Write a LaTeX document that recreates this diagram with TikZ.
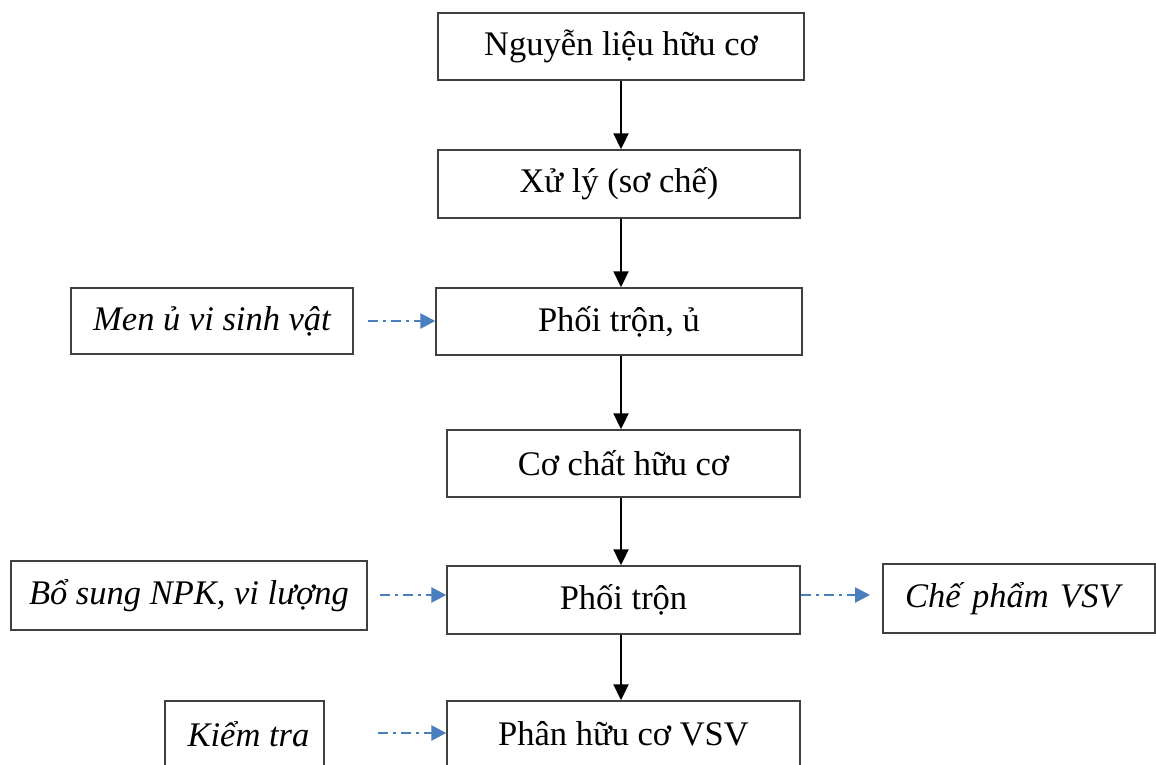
\documentclass[tikz,border=0pt]{standalone}
\usepackage{fontspec}
\setmainfont{Liberation Serif}
\usetikzlibrary{arrows.meta}
\definecolor{flowblue}{HTML}{4A7EBF}
\definecolor{boxline}{HTML}{404040}
\tikzset{
  x=1pt, y=-1pt,
  box/.style={draw=boxline, line width=1.4pt, rectangle, inner sep=0pt,
    font=\fontsize{34.5}{40}\selectfont},
  sidebox/.style={box, font=\fontsize{34.5}{40}\selectfont\itshape},
  flow/.style={line width=2pt, -{Triangle[length=16pt,width=15pt]}},
  aux/.style={draw=flowblue, line width=2.6pt,
    dash pattern=on 10pt off 5pt on 3pt off 5pt,
    -{Triangle[length=15pt,width=15pt,fill=flowblue]}},
}
\begin{document}
\begin{tikzpicture}
\useasboundingbox (0,0) rectangle (1156,765);
% main process chain
\node[box, minimum width=366pt, minimum height=67pt] (b1) at (621,46.5) {Nguyễn liệu hữu cơ};
\node[box, minimum width=362pt, minimum height=68pt] (b2) at (619,184) {Xử lý (sơ chế)};
\node[box, minimum width=366pt, minimum height=67pt] (b3) at (619,321.5) {Phối trộn, ủ};
\node[box, minimum width=353pt, minimum height=67pt] (b4) at (623.5,463.5) {Cơ chất hữu cơ};
\node[box, minimum width=353pt, minimum height=68pt] (b5) at (623.5,600) {Phối trộn};
\node[box, minimum width=353pt, minimum height=66pt] (b6) at (623.5,734) {Phân hữu cơ VSV};
% inputs and outputs
\node[sidebox, minimum width=282pt, minimum height=66pt] (men) at (212,321) {Men ủ vi sinh vật};
\node[sidebox, minimum width=356pt, minimum height=69pt] (npk) at (189,595.5) {Bổ sung NPK, vi lượng};
\node[sidebox, minimum width=272pt, minimum height=69pt, text width=228pt, align=left] (che) at (1019,598.5) {Chế phẩm VSV};
\node[sidebox, minimum width=159pt, minimum height=66pt] (kt) at (244.5,734) {\hspace*{8pt}Kiểm tra};
% vertical flow
\draw[flow] (621,0 |- b1.south) -- (621,0 |- b2.north);
\draw[flow] (621,0 |- b2.south) -- (621,0 |- b3.north);
\draw[flow] (621,0 |- b3.south) -- (621,0 |- b4.north);
\draw[flow] (621,0 |- b4.south) -- (621,0 |- b5.north);
\draw[flow] (621,0 |- b5.south) -- (621,0 |- b6.north);
% dash-dot side arrows
\coordinate (m0) at (368,321);
\draw[aux] (m0) -- (m0 -| b3.west);
\coordinate (n0) at (380,595);
\draw[aux] (n0) -- (n0 -| b5.west);
\coordinate (c0) at (870,595);
\draw[aux] (b5.east |- c0) -- (c0);
\coordinate (k0) at (378,733);
\draw[aux] (k0) -- (k0 -| b6.west);
\end{tikzpicture}
\end{document}
